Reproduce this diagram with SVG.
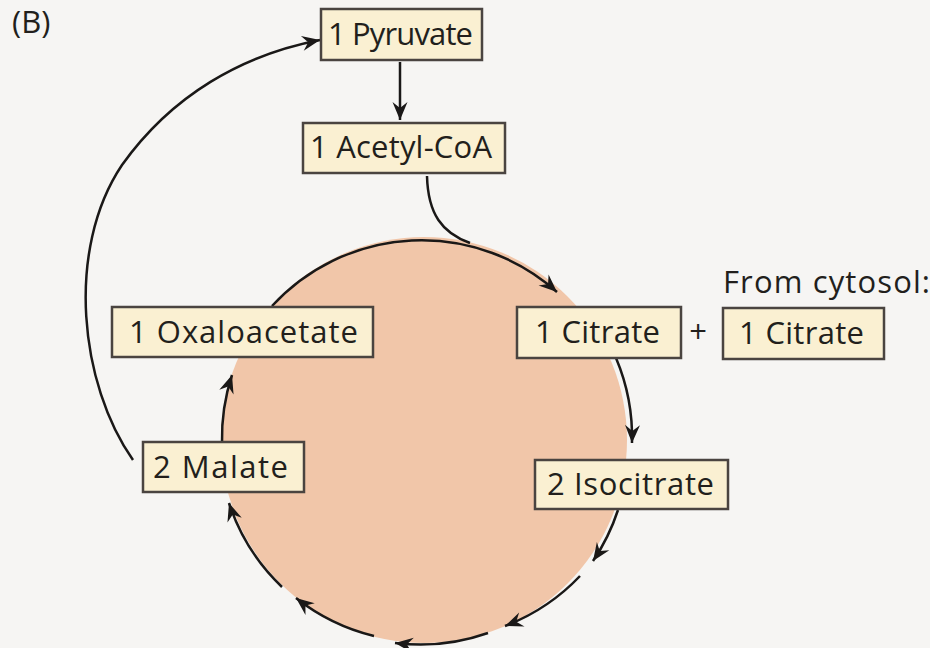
<svg xmlns="http://www.w3.org/2000/svg" width="930" height="648" viewBox="0 0 930 648">
<defs>
<style>
.box{fill:#faf0d2;stroke:#4a4440;stroke-width:2.5}
.lbl{font-family:"Open Sans","Liberation Sans",sans-serif;font-size:31px;fill:#221f1c}
.edge{fill:none;stroke:#1a1817;stroke-width:2.5}
</style>
<marker id="ah" markerUnits="userSpaceOnUse" markerWidth="22" markerHeight="18" viewBox="-19 -9 20 18" refX="0" refY="0" orient="auto">
<path d="M0,0 L-18,-7.5 L-12,0 L-18,7.5 Z" fill="#1a1817"/>
</marker>
</defs>
<rect width="930" height="648" fill="#f6f5f3"/>
<g id="cycle"><circle cx="424" cy="440" r="203" fill="#f1c6a9"/></g>
<g id="connectors">
<path class="edge" d="M400,62 L400,120" marker-end="url(#ah)"/>
<path class="edge" d="M427,176 C428,214 442,233 470,243"/>
<path class="edge" d="M272,306 A203,203 0 0 1 557,292" marker-end="url(#ah)"/>
<path class="edge" d="M616,358 A204,204 0 0 1 632,443" marker-end="url(#ah)"/>
<path class="edge" d="M618,510 A204,204 0 0 1 593,561" marker-end="url(#ah)"/>
<path class="edge" d="M580,576 A204,204 0 0 1 505,626" marker-end="url(#ah)"/>
<path class="edge" d="M488,633 A204,204 0 0 1 395,643" marker-end="url(#ah)"/>
<path class="edge" d="M374,636 A204,204 0 0 1 296,598" marker-end="url(#ah)"/>
<path class="edge" d="M282,587 A204,204 0 0 1 229,503" marker-end="url(#ah)"/>
<path class="edge" d="M222,443 A204,204 0 0 1 232,375" marker-end="url(#ah)"/>
<path class="edge" d="M133,460 C80,385 65,250 122,165 C172,95 242,55 320,40" marker-end="url(#ah)"/>
</g>
<g id="label-b"><text class="lbl" x="12" y="33" font-size="29">(B)</text></g>
<g id="pyruvate"><rect class="box" x="321" y="9" width="161" height="51"/><text class="lbl" x="328" y="45" textLength="145">1 Pyruvate</text></g>
<g id="acetylcoa"><rect class="box" x="303" y="123" width="202" height="50"/><text class="lbl" x="310" y="158" textLength="182">1 Acetyl-CoA</text></g>
<g id="oxaloacetate"><rect class="box" x="112" y="307" width="261" height="50"/><text class="lbl" x="129" y="343" textLength="229">1 Oxaloacetate</text></g>
<g id="malate"><rect class="box" x="143" y="442" width="161" height="50"/><text class="lbl" x="153" y="478" textLength="135">2 Malate</text></g>
<g id="citrate"><rect class="box" x="517" y="307" width="164" height="51"/><text class="lbl" x="535" y="343" textLength="125">1 Citrate</text></g>
<g id="plus"><text class="lbl" x="698" y="343" text-anchor="middle">+</text></g>
<g id="cytosol-citrate"><text class="lbl" x="723" y="293" textLength="207">From cytosol:</text><rect class="box" x="723" y="308" width="161" height="51"/><text class="lbl" x="739" y="344" textLength="125">1 Citrate</text></g>
<g id="isocitrate"><rect class="box" x="535" y="460" width="193" height="49"/><text class="lbl" x="547" y="495" textLength="167">2 Isocitrate</text></g>
</svg>
